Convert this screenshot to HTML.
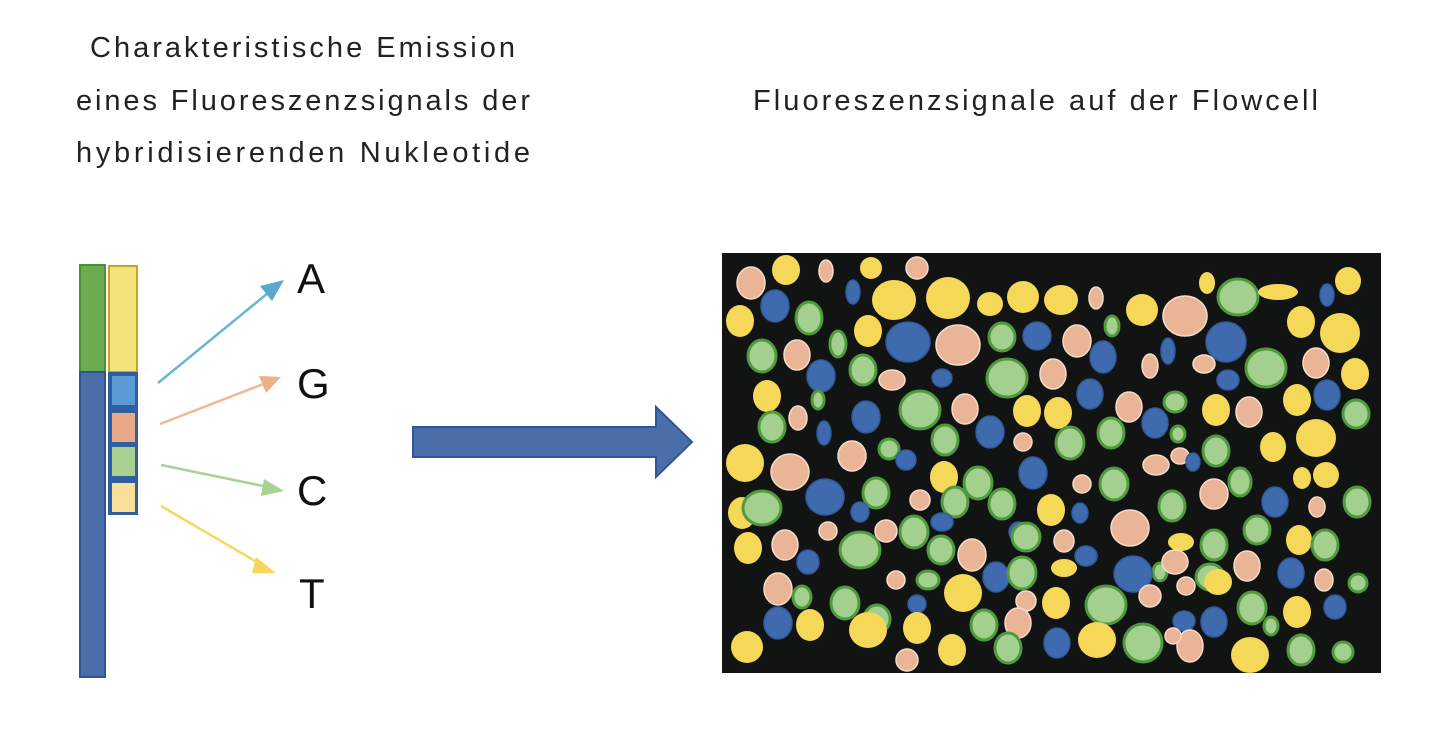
<!DOCTYPE html>
<html><head><meta charset="utf-8"><style>
body{margin:0;background:#fff;width:1436px;height:732px;overflow:hidden;font-family:"Liberation Sans",sans-serif}
</style></head><body>
<svg width="1436" height="732" xmlns="http://www.w3.org/2000/svg">
<g font-family="Liberation Sans, sans-serif" font-size="29" fill="#222" lengthAdjust="spacing">
<text x="90" y="57" textLength="425" lengthAdjust="spacing">Charakteristische Emission</text>
<text x="76" y="110" textLength="454" lengthAdjust="spacing">eines Fluoreszenzsignals der</text>
<text x="76" y="162" textLength="454" lengthAdjust="spacing">hybridisierenden Nukleotide</text>
<text x="753" y="110" textLength="565" lengthAdjust="spacing">Fluoreszenzsignale auf der Flowcell</text>
</g>
<g font-family="Liberation Sans, sans-serif" font-size="42" fill="#111">
<text x="297" y="293">A</text><text x="297" y="398">G</text><text x="297" y="505">C</text><text x="299" y="608">T</text>
</g>
<rect x="80" y="265" width="25" height="107" fill="#6aad4c" stroke="#4f8f3a" stroke-width="2"/>
<rect x="80" y="372" width="25" height="305" fill="#4a6fa8" stroke="#2f5597" stroke-width="2"/>
<rect x="109" y="266" width="28" height="106" fill="#f3e47a" stroke="#c9a227" stroke-width="2"/>
<rect x="108" y="372" width="30" height="143" fill="#2f5fa0"/>
<rect x="112" y="376" width="23" height="29" fill="#5b9bd5"/>
<rect x="112" y="413" width="23" height="29" fill="#e8a989"/>
<rect x="112" y="447" width="23" height="29" fill="#a9d08e"/>
<rect x="112" y="483" width="23" height="29" fill="#f8e09a"/>
<line x1="158" y1="383" x2="268" y2="293" stroke="#6ab4d6" stroke-width="2.5"/>
<polygon points="284,280 260,286 272,301" fill="#5ba7d0"/>
<line x1="160" y1="424" x2="266" y2="383" stroke="#f0b894" stroke-width="2.5"/>
<polygon points="281,377 259,376 266,393" fill="#eeb08a"/>
<line x1="161" y1="465" x2="268" y2="487" stroke="#a8d293" stroke-width="2.5"/>
<polygon points="284,491 264,479 261,496" fill="#a8d293"/>
<line x1="161" y1="506" x2="262" y2="565" stroke="#f5d760" stroke-width="2.5"/>
<polygon points="276,573 256,557 252,573" fill="#f5d760"/>
<polygon points="413,427 656,427 656,407 692,442 656,477 656,457 413,457" fill="#4a6fa8" stroke="#2f5597" stroke-width="2"/>
<rect x="722" y="253" width="659" height="420" fill="#121313"/>
<g id="e"></g>
</svg>
<script>
var Y="#f5d858",P="#eab497",B="#3f6aae",G="#a3cf8f";
var d=[
[P,751,283,14,16],[Y,786,270,14,15],[P,826,271,7,11],[Y,871,268,11,11],[P,917,268,11,11],
[B,853,292,7,12],[Y,894,300,22,20],[Y,948,298,22,21],[Y,990,304,13,12],[Y,1023,297,16,16],[Y,1061,300,17,15],[P,1096,298,7,11],[Y,1142,310,16,16],[P,1185,316,22,20],[Y,1207,283,8,11],[G,1238,297,20,18],[Y,1278,292,20,8],[B,1327,295,7,11],[Y,1348,281,13,14],
[B,775,306,14,16],[Y,740,321,14,16],[G,809,318,13,16],[Y,868,331,14,16],[B,908,342,22,20],[P,958,345,22,20],[G,1002,337,13,14],[B,1037,336,14,14],[P,1077,341,14,16],[G,1112,326,7,10],[B,1103,357,13,16],[B,1168,351,7,13],[P,1150,366,8,12],[B,1226,342,20,20],[Y,1301,322,14,16],[Y,1340,333,20,20],
[G,762,356,14,16],[P,797,355,13,15],[G,838,344,8,13],[G,863,370,13,15],[B,821,376,14,16],[B,942,378,10,9],[P,892,380,13,10],[G,1007,378,20,19],[P,1053,374,13,15],[P,1204,364,11,9],[B,1228,380,11,10],[G,1266,368,20,19],[P,1316,363,13,15],[Y,1355,374,14,16],
[Y,767,396,14,16],[G,818,400,6,9],[P,798,418,9,12],[B,866,417,14,16],[G,920,410,20,19],[P,965,409,13,15],[Y,1027,411,14,16],[Y,1058,413,14,16],[B,1090,394,13,15],[P,1129,407,13,15],[G,1175,402,11,10],[B,1155,423,13,15],[Y,1216,410,14,16],[P,1249,412,13,15],[Y,1297,400,14,16],[B,1327,395,13,15],[G,1356,414,13,14],
[G,772,427,13,15],[B,824,433,7,12],[G,889,449,10,10],[B,990,432,14,16],[G,945,440,13,15],[P,1023,442,9,9],[G,1070,443,14,16],[G,1111,433,13,15],[Y,1316,438,20,19],[Y,1273,447,13,15],[G,1178,434,7,8],[P,1180,456,9,8],[B,1193,462,7,9],[G,1216,451,13,15],
[Y,745,463,19,19],[P,790,472,19,18],[P,852,456,14,15],[B,906,460,10,10],[Y,944,477,14,16],[G,978,483,14,16],[B,1033,473,14,16],[P,1082,484,9,9],[G,1114,484,14,16],[P,1156,465,13,10],[G,1240,482,11,14],[Y,1302,478,9,11],[Y,1326,475,13,13],
[Y,742,513,14,16],[G,762,508,19,17],[B,825,497,19,18],[G,876,493,13,15],[P,920,500,10,10],[G,955,502,13,15],[G,1002,504,13,15],[Y,1051,510,14,16],[B,1080,513,8,10],[P,1130,528,19,18],[G,1172,506,13,15],[P,1214,494,14,15],[B,1275,502,13,15],[P,1317,507,8,10],[G,1357,502,13,15],
[B,860,512,9,10],[P,828,531,9,9],[P,886,531,11,11],[B,942,522,11,9],[G,914,532,14,16],[B,1019,532,10,10],[G,1026,537,14,14],[P,1064,541,10,11],[Y,1181,542,13,9],[G,1214,545,13,15],[G,1257,530,13,14],[Y,1299,540,13,15],[G,1325,545,13,15],
[Y,748,548,14,16],[G,860,550,20,18],[P,785,545,13,15],[B,808,562,11,12],[G,941,550,13,14],[P,972,555,14,16],[Y,1064,568,13,9],[B,1086,556,11,10],[G,1160,572,7,9],[P,1175,562,13,12],[G,1210,577,14,13],[P,1247,566,13,15],[B,1291,573,13,15],[P,1324,580,9,11],[G,1358,583,9,9],
[P,778,589,14,16],[G,802,597,9,11],[G,845,603,14,16],[P,896,580,9,9],[G,928,580,11,9],[B,917,604,9,9],[Y,963,593,19,19],[B,996,577,13,15],[G,1022,573,14,16],[P,1026,601,10,10],[Y,1056,603,14,16],[B,1133,574,19,18],[G,1106,605,20,19],[P,1150,596,11,11],[P,1186,586,9,9],[Y,1218,582,14,13],[G,1252,608,14,16],[Y,1297,612,14,16],[B,1335,607,11,12],
[Y,810,625,14,16],[B,778,623,14,16],[G,877,619,13,14],[Y,917,628,14,16],[G,984,625,13,15],[P,1018,623,13,15],[B,1184,621,11,10],[B,1214,622,13,15],[G,1271,626,7,9],
[Y,747,647,16,16],[Y,868,630,19,18],[P,907,660,11,11],[Y,952,650,14,16],[G,1008,648,13,15],[B,1057,643,13,15],[Y,1097,640,19,18],[G,1143,643,19,19],[P,1190,646,13,16],[Y,1250,655,19,18],[G,1301,650,13,15],[G,1343,652,10,10],[P,1173,636,8,8]];
var g=document.getElementById("e"),s="";
d.forEach(function(a){var st=a[0]==G?' stroke="#4f9a3c" stroke-width="3"':a[0]==B?' stroke="#2f5a9c" stroke-width="1.5"':a[0]==P?' stroke="#f6dccc" stroke-width="1.5"':'';
s+='<ellipse cx="'+a[1]+'" cy="'+a[2]+'" rx="'+a[3]+'" ry="'+a[4]+'" fill="'+a[0]+'"'+st+'/>';});
g.innerHTML=s;
</script>
</body></html>
